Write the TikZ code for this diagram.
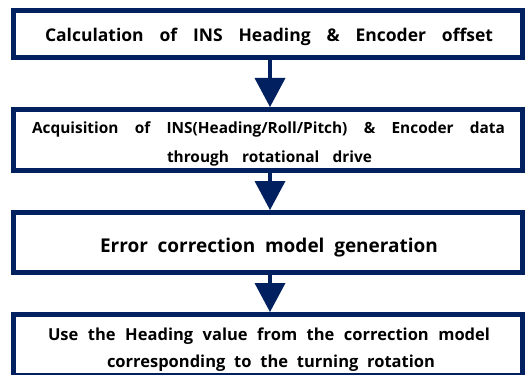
\documentclass[tikz,border=0pt]{standalone}
\usepackage{fontspec}
\setmainfont{Open Sans}
\definecolor{navy}{RGB}{0,32,96}
\tikzset{
  stepbox/.style={draw=navy, line width=5pt, fill=white},
  flowshaft/.style={draw=navy, line width=4pt},
  flowhead/.style={fill=navy},
  lbl/.style={anchor=base, inner sep=0pt},
}
\newcommand{\spreadline}[2]{\makebox[#1][s]{#2}}
\begin{document}
\begin{tikzpicture}[x=1pt,y=-1pt]
  \useasboundingbox (0,0) rectangle (526,374);
  \clip (0,0) rectangle (526,374);
  % boxes
  \draw[stepbox] (13.5,10.5) rectangle (522.5,57.5);
  \draw[stepbox] (13.5,109.5) rectangle (522.5,170.5);
  \draw[stepbox] (13.5,212.5) rectangle (522.5,272.5);
  \draw[stepbox] (13.5,314.5) rectangle (522.5,375.5);
  \coordinate (b1) at (270,60);
  \coordinate (t2) at (270,107);
  \coordinate (b2) at (270,173);
  \coordinate (t3) at (270,210);
  \coordinate (b3) at (270,275);
  \coordinate (t4) at (270,312);
  % arrows: shaft and triangular head
  \foreach \s/\e in {b1/t2, b2/t3, b3/t4}{
    \path[flowshaft] (\s) -- ([yshift=26pt]\e);
    \fill[flowhead] ([yshift=29pt,xshift=-15.5pt]\e) -- ([yshift=29pt,xshift=15.5pt]\e) -- (\e) -- cycle;
  }
  % labels
  \node[lbl, font=\bfseries\fontsize{17.5}{20}\selectfont] (l1) at (269,42)
    {\spreadline{448pt}{Calculation of INS Heading \& Encoder offset}};
  \node[lbl, font=\bfseries\fontsize{15.4}{18}\selectfont] (l2a) at (268.5,133)
    {\spreadline{473pt}{Acquisition of INS(Heading/Roll/Pitch) \& Encoder data}};
  \node[lbl, font=\bfseries\fontsize{15.4}{18}\selectfont] (l2b) at (269.5,162)
    {\spreadline{205pt}{through rotational drive}};
  \node[lbl, font=\bfseries\fontsize{19}{22}\selectfont] (l3) at (269,252)
    {\spreadline{338pt}{Error correction model generation}};
  \node[lbl, font=\bfseries\fontsize{16.5}{19}\selectfont] (l4a) at (269,340)
    {\spreadline{442pt}{Use the Heading value from the correction model}};
  \node[lbl, font=\bfseries\fontsize{16.5}{19}\selectfont] (l4b) at (271,367)
    {\spreadline{328pt}{corresponding to the turning rotation}};
\end{tikzpicture}
\end{document}
